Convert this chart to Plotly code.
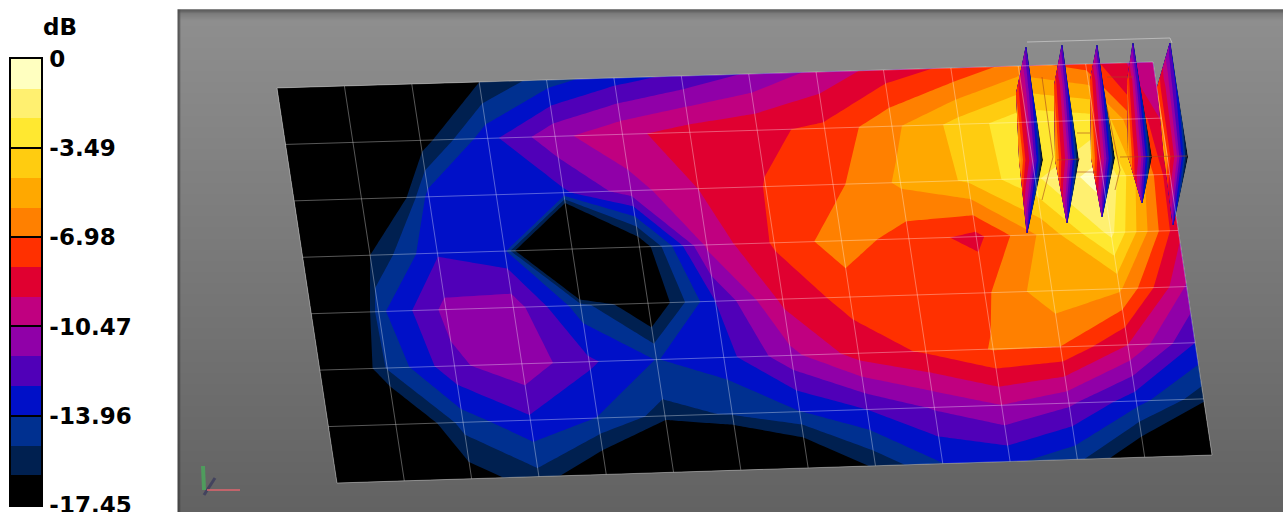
import numpy as np
import plotly.graph_objects as go

TICK_DB = [0, -3.49, -6.98, -10.47, -13.96, -17.45]
TICK_TEXT = ["0", "-3.49", "-6.98", "-10.47", "-13.96", "-17.45"]
BAND_EDGES_DB = [-17.45, -16.29, -15.12, -13.96, -12.80, -11.63, -10.47, -9.31, -8.14, -6.98, -5.82, -4.65, -3.49, -2.33, -1.16, 0]
BAND_COLORS = ["#000000", "#002050", "#003090", "#0010c8", "#5000b8", "#9000a8", "#c00080", "#e00030",
               "#ff3000", "#ff8000", "#ffa800", "#ffcc10", "#ffe830", "#fff070", "#ffffc0"]

# dB at the 14 x 8 nodes of the measurement plate (anything under -17.45 is in the black floor band)
ROW0 = [-17.45, -17.45, -17.45, -16.3, -14.5, -13.3, -12.5, -11.5, -10.2, -8.8, -7.9, -6.5, -7.5, -10.5]
ROW1 = [-17.45, -17.45, -17.0, -13.2, -10.8, -9.6, -8.8, -8.4, -7.9, -6.1, -4.2, -2.6, -3.0, -9.5]
ROW2 = [-17.45, -22.0, -13.5, -13.4, -13.0, -11.0, -9.3, -8.1, -7.3, -5.6, -4.5, -2.5, -0.5, -9.0]
ROW3 = [-17.45, -16.3, -12.9, -13.6, -31.0, -17.5, -10.2, -8.0, -6.3, -7.6, -8.5, -5.5, -2.0, -9.0]
ROW4 = [-30.0, -14.3, -11.3, -11.0, -14.6, -18.0, -12.8, -9.0, -7.7, -7.5, -7.2, -5.0, -5.6, -10.6]
ROW5 = [-21.0, -15.0, -11.9, -10.8, -12.6, -14.0, -13.3, -10.8, -8.8, -8.0, -6.9, -7.0, -9.3, -12.8]
ROW6 = [-17.45, -19.0, -14.6, -13.0, -14.0, -15.6, -15.0, -14.0, -12.8, -11.5, -10.5, -11.4, -13.5, -15.8]
ROW7 = [-17.45, -17.45, -17.0, -15.5, -18.0, -25.0, -21.5, -19.0, -16.0, -14.0, -13.7, -14.8, -17.9, -25.0]
PLATE_DB = [ROW0, ROW1, ROW2, ROW3, ROW4, ROW5, ROW6, ROW7]
PLATE_TOP_X = [277, 1153]
PLATE_TOP_Y = [88, 62]
PLATE_BOTTOM_X = [337, 1212]
PLATE_BOTTOM_Y = [483, 455]

# Fins: apex, upper-left bulge, tip, bottom
FIN_APEX_X = [1026, 1062, 1097, 1133, 1170]
FIN_APEX_Y = [47, 45, 45, 43, 43]
FIN_BULGE_X = [1016, 1054, 1090, 1127, 1157]
FIN_BULGE_Y = [93, 85, 80, 80, 87]
FIN_TIP_X = [1043, 1079, 1115, 1152, 1188]
FIN_TIP_Y = [160, 160, 158, 157, 157]
FIN_BOTTOM_X = [1027, 1067, 1102, 1142, 1173]
FIN_BOTTOM_Y = [233, 223, 217, 203, 225]
FIN_DB = [
    [-12.0, -12.0, -12.4, -12.8, -13.0],
    [-7.0, -8.6, -9.6, -11.5, -13.2],
    [-5.0, -8.0, -9.8, -12.9, -17.0],
    [-11.5, -11.5, -12.5, -13.0, -13.0],
]

GRAY_X = [178.5, 180.5, 1300]
GRAY_Y = [10.5, 13, 20, 512]
GRAY = [
    [80, 95, 95],
    [85, 125, 125],
    [88, 142, 142],
    [70, 98, 98],
]

AXIS_GREEN_X = [204, 203]
AXIS_GREEN_Y = [490, 466]
AXIS_RED_X = [207, 240]
AXIS_RED_Y = [490, 490]
AXIS_BLUE_X = [204, 215]
AXIS_BLUE_Y = [495, 478]
BOX_X = [1027, 1170, 1172]
BOX_Y = [42, 38, 43]
# Thin slice outlines around the fins
CHEVRON1_X = [1042, 1053, 1042]
CHEVRON1_Y = [77, 157, 200]
CHEVRON2_X = [1107, 1120, 1115]
CHEVRON2_Y = [107, 170, 190]
TICK1_X = [1057, 1080]
TICK1_Y = [160, 159]
TICK2_X = [1077, 1090]
TICK2_Y = [133, 133]
TICK3_X = [1077, 1097]
TICK3_Y = [172, 172]
TICK4_X = [1120, 1187]
TICK4_Y = [157, 156]
TICK5_X = [1107, 1133]
TICK5_Y = [77, 77]

fig = go.Figure()
mainaxes = dict(xaxis="x", yaxis="y")

fig.add_trace(go.Heatmap(x=GRAY_X, y=GRAY_Y, z=GRAY, zmin=0, zmax=255, zsmooth="best", showscale=False,
                         colorscale=[[0, "#000000"], [1, "#ffffff"]], hoverinfo="skip", **mainaxes))

n = len(BAND_COLORS)
scale = [[i / (n - 1), c] for i, c in enumerate(BAND_COLORS)]
levels = dict(start=BAND_EDGES_DB[1], end=BAND_EDGES_DB[-2], size=(BAND_EDGES_DB[-1] - BAND_EDGES_DB[0]) / n,
              coloring="fill", showlines=False)

z = np.array(PLATE_DB)
ny, nx = z.shape
a = np.arange(nx)
b = np.arange(ny)
u = np.linspace(0, 1, nx)[None, :]
v = np.linspace(0, 1, ny)[:, None]
top_x = PLATE_TOP_X[0] + (PLATE_TOP_X[1] - PLATE_TOP_X[0]) * u
top_y = PLATE_TOP_Y[0] + (PLATE_TOP_Y[1] - PLATE_TOP_Y[0]) * u
bot_x = PLATE_BOTTOM_X[0] + (PLATE_BOTTOM_X[1] - PLATE_BOTTOM_X[0]) * u
bot_y = PLATE_BOTTOM_Y[0] + (PLATE_BOTTOM_Y[1] - PLATE_BOTTOM_Y[0]) * u
px = top_x + (bot_x - top_x) * v
py = top_y + (bot_y - top_y) * v

grid = dict(showticklabels="none", showgrid=True, gridcolor="rgba(255,255,255,0.34)", gridwidth=1,
            minorgridcount=0, startline=False, endline=False, smoothing=0, dtick=1, tick0=0, showline=False)
fig.add_trace(go.Carpet(carpet="plate", a=a, b=b, x=px, y=py, aaxis=grid, baxis=grid, **mainaxes))
fig.add_trace(go.Contourcarpet(carpet="plate", a=a, b=b, z=z, colorscale=scale, contours=levels, autocontour=False,
                               line=dict(width=0, smoothing=0), showscale=False, zmin=BAND_EDGES_DB[0], zmax=0, **mainaxes))

fz = np.array(FIN_DB)
nr, nc = fz.shape
t = np.linspace(0, 1, nc)
for i in range(len(FIN_APEX_X)):
    lefts = np.array([FIN_APEX_X[i] - 0.5, FIN_BULGE_X[i], FIN_TIP_X[i] - 24, FIN_BOTTOM_X[i] - 0.5])
    rights = np.array([FIN_APEX_X[i] + 0.5,
                       FIN_APEX_X[i] + (FIN_TIP_X[i] - FIN_APEX_X[i]) * (FIN_BULGE_Y[i] - FIN_APEX_Y[i]) / (FIN_TIP_Y[i] - FIN_APEX_Y[i]),
                       FIN_TIP_X[i], FIN_BOTTOM_X[i] + 0.5])
    ys = np.array([FIN_APEX_Y[i], FIN_BULGE_Y[i], FIN_TIP_Y[i], FIN_BOTTOM_Y[i]])
    fx = lefts[:, None] + (rights - lefts)[:, None] * t[None, :]
    fy = np.repeat(ys[:, None], nc, axis=1)
    cid = f"fin{i}"
    off = dict(showticklabels="none", showgrid=False, minorgridcount=0, startline=False, endline=False,
               smoothing=0, showline=False, dtick=1)
    fig.add_trace(go.Carpet(carpet=cid, a=np.arange(nc), b=np.arange(nr), x=fx, y=fy, aaxis=off, baxis=off, **mainaxes))
    fig.add_trace(go.Contourcarpet(carpet=cid, a=np.arange(nc), b=np.arange(nr), z=fz, colorscale=scale, contours=levels,
                                   autocontour=False, line=dict(width=0, smoothing=0), showscale=False,
                                   zmin=BAND_EDGES_DB[0], zmax=0, **mainaxes))

for lx, ly in [(CHEVRON1_X, CHEVRON1_Y), (CHEVRON2_X, CHEVRON2_Y), (TICK1_X, TICK1_Y), (TICK2_X, TICK2_Y),
               (TICK3_X, TICK3_Y), (TICK4_X, TICK4_Y), (TICK5_X, TICK5_Y)]:
    fig.add_trace(go.Scatter(x=lx, y=ly, mode="lines", line=dict(color="rgba(170,70,30,0.6)", width=1), hoverinfo="skip", **mainaxes))
fig.add_trace(go.Scatter(x=BOX_X, y=BOX_Y, mode="lines", line=dict(color="rgba(215,215,215,0.6)", width=1), hoverinfo="skip", **mainaxes))
fig.add_trace(go.Scatter(x=AXIS_BLUE_X, y=AXIS_BLUE_Y, mode="lines", line=dict(color="rgba(40,40,90,0.55)", width=3), hoverinfo="skip", **mainaxes))
fig.add_trace(go.Scatter(x=AXIS_GREEN_X, y=AXIS_GREEN_Y, mode="lines", line=dict(color="rgba(70,180,90,0.7)", width=4), hoverinfo="skip", **mainaxes))
fig.add_trace(go.Scatter(x=AXIS_RED_X, y=AXIS_RED_Y, mode="lines", line=dict(color="rgba(225,100,110,0.75)", width=2), hoverinfo="skip", **mainaxes))

# Colour legend
centers = [(BAND_EDGES_DB[i] + BAND_EDGES_DB[i + 1]) / 2 for i in range(n)]
bar_scale = []
for i, c in enumerate(BAND_COLORS):
    bar_scale += [[i / n, c], [(i + 1) / n, c]]
fig.add_trace(go.Heatmap(x=[0, 1], y=BAND_EDGES_DB, z=[[c] for c in centers], zmin=BAND_EDGES_DB[0], zmax=0,
                         colorscale=bar_scale, showscale=False, hoverinfo="skip", xaxis="x2", yaxis="y2"))

W, H = 1283, 512
label_font = dict(family="DejaVu Sans", size=23, color="#000000", weight="bold")
fig.update_layout(
    width=W, height=H, margin=dict(l=0, r=0, t=0, b=0, autoexpand=False), paper_bgcolor="white", plot_bgcolor="white", showlegend=False,
    xaxis=dict(range=[0, W], visible=False, domain=[0, 1], fixedrange=True),
    yaxis=dict(range=[H, 0], visible=False, domain=[0, 1], fixedrange=True),
    xaxis2=dict(range=[0, 1], domain=[11 / W, 41 / W], anchor="y2", showticklabels=False, ticks="", fixedrange=True,
                showline=True, linecolor="#000000", linewidth=1.5, mirror=True, showgrid=False, zeroline=False),
    yaxis2=dict(range=[-17.46, 0.001], domain=[1 - 505 / H, 1 - 59 / H], anchor="x2", side="right", fixedrange=True,
                tickvals=TICK_DB, ticktext=TICK_TEXT, ticks="inside", ticklen=30, tickwidth=1.5, tickcolor="#000000",
                ticklabelstandoff=2, ticklabeloverflow="allow", showline=True, linecolor="#000000", linewidth=1.5,
                mirror=True, showgrid=False, zeroline=False, tickfont=label_font),
    annotations=[dict(text="dB", x=60, y=27, xref="x", yref="y", showarrow=False, font=label_font)],
)
fig.write_html("out.html", config=dict(displayModeBar=False), post_script="document.body.style.margin='0';")
